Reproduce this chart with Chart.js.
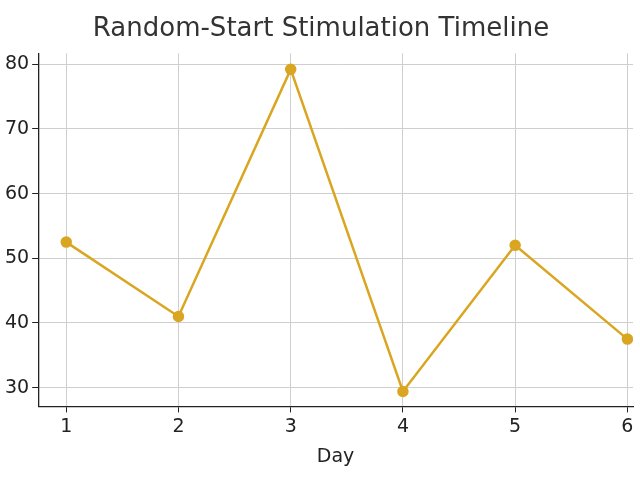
<!DOCTYPE html>
<html><head><meta charset="utf-8">
<script src="https://cdn.jsdelivr.net/npm/chart.js@4"></script>
<style>html,body{margin:0;padding:0;background:#fff}#w{width:640px;height:480px}</style>
</head><body><div id="w"><canvas id="c"></canvas></div>
<script>
const days = [1, 2, 3, 4, 5, 6];
const values = [52.5, 41, 79.2, 29.4, 52, 37.5];
const yTicks = [30, 40, 50, 60, 70, 80];
new Chart(document.getElementById('c'), {
  type: 'line',
  data: { datasets: [{ data: days.map((d,i)=>({x:d,y:values[i]})), borderColor:'#DAA520', backgroundColor:'#DAA520', borderWidth:2.5, pointRadius:4.5, tension:0 }] },
  options: {
    responsive:true, maintainAspectRatio:false, animation:false,
    layout:{padding:{left:2,right:0,top:8,bottom:8}},
    plugins:{ legend:{display:false}, title:{display:true,text:'Random-Start Stimulation Timeline',color:'#333',font:{family:'DejaVu Sans',size:26,weight:'normal'},padding:{top:6,bottom:8}} },
    scales:{
      x:{ type:'linear', min:0.75, max:6.05, afterBuildTicks:a=>{a.ticks=days.map(v=>({value:v}));},
          grid:{color:'#cfcfcf',dash:[4,3],tickLength:6,tickColor:'#222'}, border:{color:'#222',width:1.3},
          ticks:{color:'#222',font:{family:'DejaVu Sans',size:19}},
          title:{display:true,text:'Day',color:'#222',font:{family:'DejaVu Sans',size:19}} },
      y:{ min:27.1, max:81.7, afterBuildTicks:a=>{a.ticks=yTicks.map(v=>({value:v}));},
          grid:{color:'#cfcfcf',dash:[4,3],tickLength:6,tickColor:'#222'}, border:{color:'#222',width:1.3},
          ticks:{color:'#222',font:{family:'DejaVu Sans',size:19}} }
    }
  }
});
</script></body></html>
